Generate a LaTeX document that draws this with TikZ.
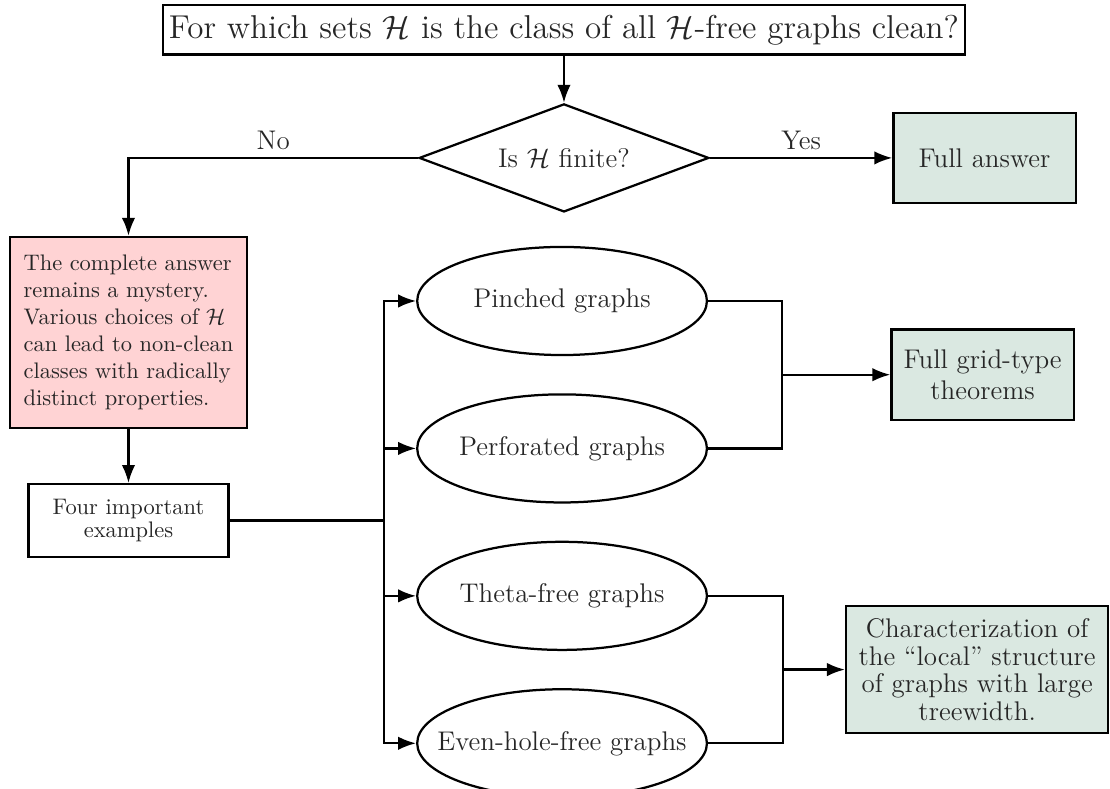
\documentclass[tikz,border=0pt]{standalone}
\usepackage{amsmath,amssymb,amsfonts}
\usepackage{xcolor}
\usetikzlibrary{shapes.geometric,positioning,calc,arrows.meta}

\definecolor{mysterypink}{RGB}{255,211,212}
\definecolor{answergreen}{RGB}{218,232,225}

\begin{document}
\begin{tikzpicture}[
    line width=1pt,
    every node/.style={text=black!85},
    question/.style={
        rectangle,
        draw,
        font=\fontsize{14.7}{17}\selectfont,
        minimum width=12.55cm,
        minimum height=0.77cm,
        inner sep=2pt
    },
    decision/.style={
        diamond,
        draw,
        font=\large,
        aspect=2.7,
        inner sep=0pt,
        minimum width=4.53cm,
        minimum height=1.69cm
    },
    family/.style={
        ellipse,
        draw,
        font=\large,
        inner xsep=-14pt,
        inner ysep=0pt,
        minimum width=4.53cm,
        minimum height=1.69cm
    },
    answer/.style={
        rectangle,
        draw,
        fill=answergreen,
        align=center,
        inner sep=0pt
    },
    puzzle/.style={
        rectangle,
        draw,
        fill=mysterypink,
        align=left,
        inner sep=0pt,
        minimum width=3.71cm,
        minimum height=2.99cm
    },
    plainbox/.style={
        rectangle,
        draw,
        align=center,
        inner sep=0pt,
        font=\fontsize{10}{10.5}\selectfont,
        minimum width=3.13cm,
        minimum height=1.14cm
    },
    line/.style={
        draw,
        -{Latex[length=8pt,width=6pt]}
    }
]
    \useasboundingbox (-8.818,0.469) rectangle (8.537,-11.867);

    % --- Top: question and test ---
    \node [question] (title) at (0,0)
        {For which sets $\mathcal{H}$ is the class of all $\mathcal{H}$-free graphs clean?};
    \node [decision, below=0.735cm of title] (finite) {Is $\mathcal{H}$ finite?};
    \node [answer, font=\large, right=2.85cm of finite,
        minimum width=2.85cm, minimum height=1.41cm] (full) {Full answer};

    % --- Left column ---
    \node [puzzle] (open) at (-6.809,-4.730)
        {The complete answer\\ remains a mystery.\\ Various choices of $\mathcal{H}$\\
         can lead to non-clean\\ classes with radically\\ distinct properties.};
    \node [plainbox, below=0.84cm of open] (examples) {Four important\\ examples};

    % --- The four graph classes ---
    \node [family] (pinched) at (-0.03,-4.237) {Pinched graphs};
    \node [family, below=0.58cm of pinched] (perforated) {Perforated graphs};
    \node [family, below=0.58cm of perforated] (theta) {Theta-free graphs};
    \node [family, below=0.58cm of theta] (evenhole) {Even-hole-free graphs};

    % branch and merge points
    \coordinate [right=2.41cm of examples.east] (split);
    \path ($(pinched.east)!0.5!(perforated.east)$) ++(1.16,0) coordinate (upper);
    \path ($(theta.east)!0.5!(evenhole.east)$) ++(1.17,0) coordinate (lower);

    % --- Right: results ---
    \node [answer, font=\large, right=1.69cm of upper,
        minimum width=2.85cm, minimum height=1.41cm] (grid) {Full grid-type\\ theorems};
    \node [answer, font=\fontsize{12}{12.2}\selectfont, right=0.97cm of lower,
        minimum width=4.10cm, minimum height=1.99cm] (local)
        {Characterization of\\ the ``local'' structure\\ of graphs with large\\ treewidth.};

    % --- Connections ---
    \path [line] (title) -- (finite);
    \path [line] (finite) -| node[pos=0.25, above, font=\large] {No} (open);
    \path [line] (finite) -- node[above, font=\large] {Yes} (full);
    \path [line] (open) -- (examples);

    \draw (examples) -- (split);
    \foreach \g in {pinched,perforated,theta,evenhole}
        \path [line] (split) |- (\g);

    \draw (pinched) -| (upper) |- (perforated);
    \path [line] (upper) -- (grid);
    \draw (theta) -| (lower) |- (evenhole);
    \path [line] (lower) -- (local);

\end{tikzpicture}
\end{document}
